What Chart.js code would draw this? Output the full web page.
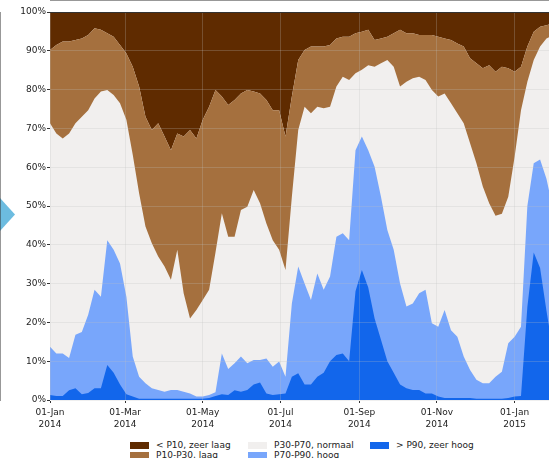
<!DOCTYPE html>
<html>
<head>
<meta charset="utf-8">
<script src="https://cdn.jsdelivr.net/npm/chart.js@4/dist/chart.umd.min.js"></script>
<style>
  body { margin: 0; width: 549px; height: 458px; overflow: hidden; background: #fff; position: relative; font-family: 'DejaVu Sans', sans-serif; }
  #pijl { position: absolute; left: 0; top: 198px; width: 15px; height: 33px; background: #6cbce0; clip-path: polygon(0 0, 100% 50%, 0 100%); }
  #wrap { position: absolute; left: 0; top: 0; width: 549px; height: 432px; }
  .item { position: absolute; font-size: 9px; color: #222; white-space: nowrap; line-height: 10px; }
  .item span { display: inline-block; width: 19px; height: 7px; vertical-align: -0.5px; margin-right: 7px; }
</style>
</head>
<body>
<div id="pijl"></div>
<div id="wrap"><canvas id="grafiek" width="549" height="432"></canvas></div>
<div id="legenda"></div>
<script>
// dagen sinds 01-01-2014
const dagen = [0, 5, 10, 15, 20, 25, 30, 35, 40, 45,
  50, 55, 60, 65, 70, 75, 80, 85, 90, 95,
  100, 105, 110, 115, 120, 125, 130, 135, 140, 145,
  150, 155, 160, 165, 170, 175, 180, 185, 190, 195,
  200, 205, 210, 215, 220, 225, 230, 235, 240, 245,
  250, 255, 260, 265, 270, 275, 280, 285, 290, 295,
  300, 305, 310, 315, 320, 325, 330, 335, 340, 345,
  350, 355, 360, 365, 370, 375, 380, 385, 390, 392];

// bovengrens van elke klasse, % van het gebied (cumulatief van onder)
const grensP90 = [1.3, 1.0, 1.0, 2.5, 3.0, 1.5, 1.8, 3.0, 3.0, 9.0,
  7.0, 4.0, 1.5, 0.9, 0.3, 0.3, 0.3, 0.3, 0.3, 0.3,
  0.3, 0.3, 0.3, 0.3, 0.3, 0.5, 1.0, 1.5, 1.3, 2.5,
  2.1, 2.6, 4.0, 4.5, 1.7, 1.3, 1.5, 1.7, 6.0, 6.9,
  4.0, 4.0, 6.0, 7.0, 10.0, 11.6, 12.0, 10.0, 28.0, 33.5,
  29.0, 21.0, 15.5, 10.0, 7.0, 4.0, 3.0, 2.6, 2.6, 1.7,
  1.7, 0.9, 0.5, 0.5, 0.5, 0.5, 0.5, 0.3, 0.3, 0.3,
  0.3, 0.3, 0.5, 0.9, 1.0, 24.0, 38.0, 34.0, 23.0, 19.0];

const grensP70 = [13.7, 12.0, 12.0, 10.8, 16.8, 17.5, 22.0, 28.4, 26.6, 41.2,
  38.7, 35.2, 26.6, 11.2, 6.0, 4.3, 3.0, 2.6, 2.1, 2.6,
  2.6, 2.1, 1.7, 0.9, 0.9, 1.3, 2.0, 12.0, 8.0, 9.5,
  11.2, 9.5, 10.3, 10.3, 10.7, 8.6, 9.9, 6.0, 24.9, 34.4,
  30.0, 25.8, 32.6, 28.4, 31.8, 42.1, 43.0, 41.2, 64.4, 67.9,
  64.4, 60.1, 52.4, 43.8, 38.7, 30.0, 24.1, 24.9, 27.5, 28.4,
  19.8, 18.9, 23.2, 18.0, 16.3, 11.2, 7.7, 5.2, 4.3, 4.3,
  6.0, 7.3, 14.6, 16.3, 18.9, 50.0, 61.0, 62.0, 57.0, 54.0];

const grensP30 = [71.3, 68.7, 67.4, 68.7, 71.3, 73.0, 74.7, 77.7, 79.5, 79.9,
  78.6, 76.5, 72.2, 63.2, 53.3, 44.7, 40.4, 37.0, 34.4, 31.0,
  38.7, 27.5, 21.0, 23.2, 25.8, 28.4, 38.0, 48.1, 42.1, 42.1,
  49.0, 49.8, 54.1, 50.7, 45.5, 41.2, 38.7, 33.5, 52.4, 69.6,
  75.6, 73.9, 75.6, 75.2, 75.6, 80.8, 83.3, 82.5, 84.2, 85.1,
  86.3, 85.9, 86.8, 87.6, 85.9, 80.8, 82.0, 82.9, 83.3, 82.5,
  79.9, 78.2, 79.0, 76.5, 73.9, 71.3, 66.2, 61.0, 55.0, 50.7,
  47.5, 48.0, 52.4, 62.7, 74.7, 82.0, 87.6, 91.1, 93.2, 93.5];

const grensP10 = [90.2, 91.5, 92.4, 92.4, 92.8, 93.2, 94.1, 95.8, 95.4, 94.5,
  93.6, 91.5, 89.3, 85.9, 80.8, 73.0, 69.6, 71.3, 67.9, 64.4,
  68.7, 67.9, 69.6, 67.4, 72.2, 75.6, 79.9, 78.2, 76.0, 77.3,
  79.0, 79.9, 79.5, 79.0, 77.3, 74.7, 74.7, 67.9, 78.2, 87.6,
  90.2, 91.1, 91.1, 91.1, 91.5, 93.2, 93.6, 93.6, 94.5, 94.9,
  95.4, 92.8, 93.2, 93.6, 94.5, 95.4, 94.5, 94.5, 94.1, 94.1,
  94.1, 93.6, 93.2, 92.8, 91.9, 91.1, 88.1, 86.8, 85.5, 86.3,
  84.6, 85.9, 85.5, 84.6, 85.9, 91.1, 94.9, 96.2, 96.6, 96.8];

const klassen = ['> P90, zeer hoog', 'P70-P90, hoog', 'P30-P70, normaal', 'P10-P30, laag', '< P10, zeer laag'];
const kleuren = ['#1266eb', '#78a6fb', '#f1efee', '#a5703e', '#5f2b00'];

const tickDagen = [0, 59, 120, 181, 243, 304, 365];
const tickLabels = [['01-Jan', '2014'], ['01-Mar', '2014'], ['01-May', '2014'], ['01-Jul', '2014'],
  ['01-Sep', '2014'], ['01-Nov', '2014'], ['01-Jan', '2015']];

const punten = (reeks) => reeks.map((v, i) => ({ x: dagen[i], y: v }));

const maakDataset = (i, reeks, fill) => ({
  label: klassen[i],
  data: punten(reeks),
  fill: fill,
  backgroundColor: kleuren[i],
  borderWidth: 0,
  pointRadius: 0,
  tension: 0
});

const kaderBoven = {
  id: 'kaderBoven',
  afterDraw: (chart) => {
    const { ctx, chartArea } = chart;
    ctx.save();
    ctx.strokeStyle = '#333';
    ctx.lineWidth = 1;
    ctx.beginPath();
    ctx.moveTo(chartArea.left, chartArea.top + 0.5);
    ctx.lineTo(chartArea.right, chartArea.top + 0.5);
    ctx.stroke();
    ctx.restore();
  }
};

Chart.defaults.font.family = "'DejaVu Sans', sans-serif";
Chart.defaults.font.size = 9;
Chart.defaults.color = '#222';

const ctx = document.getElementById('grafiek').getContext('2d');
const grafiek = new Chart(ctx, {
  type: 'line',
  data: {
    datasets: [
      maakDataset(0, grensP90, 'origin'),
      maakDataset(1, grensP70, 'origin'),
      maakDataset(2, grensP30, 'origin'),
      maakDataset(3, grensP10, 'origin'),
      maakDataset(4, grensP10, 'end')
    ]
  },
  options: {
    responsive: false,
    animation: false,
    layout: { padding: { top: 12, right: 0, bottom: 0, left: 0 } },
    plugins: { legend: { display: false }, tooltip: { enabled: false } },
    scales: {
      x: {
        type: 'linear',
        min: 0,
        max: 392,
        afterBuildTicks: (scale) => { scale.ticks = tickDagen.map(v => ({ value: v })); },
        afterFit: (scale) => { scale.height = 32; },
        ticks: {
          autoSkip: false,
          maxRotation: 0,
          padding: 4,
          font: { lineHeight: 1.3 },
          callback: (value, index) => tickLabels[index]
        },
        grid: { z: 1, color: 'rgba(190,190,190,0.25)', tickColor: '#333', tickLength: 3 },
        border: { color: '#333', width: 1 }
      },
      y: {
        min: 0,
        max: 100,
        afterFit: (scale) => { scale.width = 50; },
        ticks: { stepSize: 10, padding: 1, callback: (v) => v + '%' },
        grid: { z: 1, color: 'rgba(190,190,190,0.25)', tickColor: '#333', tickLength: 3 },
        border: { color: '#333', width: 1 }
      }
    }
  },
  plugins: [kaderBoven]
});

// legenda in kolommen, zoals het origineel
const legendaVolgorde = [4, 3, 2, 1, 0];
const kolomX = [130, 248, 370];
const rijY = [440, 450];
const legenda = document.getElementById('legenda');
legendaVolgorde.forEach((k, n) => {
  const item = document.createElement('div');
  item.className = 'item';
  item.style.left = kolomX[Math.floor(n / 2)] + 'px';
  item.style.top = rijY[n % 2] + 'px';
  item.innerHTML = `<span style="background:${kleuren[k]}"></span>${klassen[k].replace('<', '&lt;').replace('>', '&gt;')}`;
  legenda.appendChild(item);
});
</script>
</body>
</html>
